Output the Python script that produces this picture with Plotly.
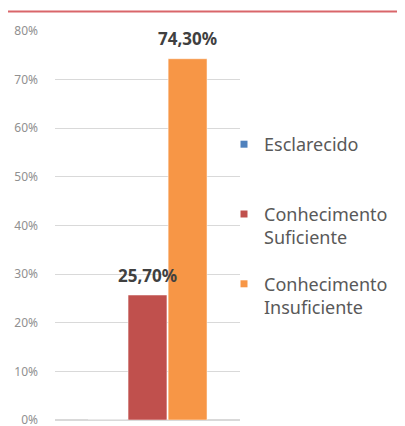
import plotly.graph_objects as go

category = ["Total"]
series_names = ["Esclarecido", "Conhecimento<br>Suficiente", "Conhecimento<br>Insuficiente"]
series_values = [0.0, 0.257, 0.743]
series_labels = ["", "25,70%", "74,30%"]
series_colors = ["#4F81BD", "#C0504D", "#F79646"]
tick_vals = [0, 0.1, 0.2, 0.3, 0.4, 0.5, 0.6, 0.7, 0.8]
tick_text = ["0%", "10%", "20%", "30%", "40%", "50%", "60%", "70%", "80%"]

# page body has an 8px margin, so the figure is drawn 8px smaller and shifted
W, H = 397, 418
L, R, T, B = 47, 165, 23, 6
PW, PH = W - L - R, H - T - B
BARGAP = 0.35
SLOT = PW * (1 - BARGAP) / len(series_values)

fig = go.Figure()
for i, (name, v, col) in enumerate(zip(series_names, series_values, series_colors)):
    fig.add_trace(go.Bar(
        x=category, y=[v], name=name,
        marker=dict(color=col, line=dict(color="white", width=0.5)),
        showlegend=False,
    ))
# legend entries with small square symbols
for i, (name, col) in enumerate(zip(series_names, series_colors)):
    fig.add_trace(go.Scatter(
        x=[None], y=[None], mode="markers", name=name if i else name + "<br> ",
        marker=dict(symbol="square", size=7, color=col),
        legendgroup=str(i), showlegend=True,
    ))

annotations = []
n = len(series_values)
for i, (v, lab) in enumerate(zip(series_values, series_labels)):
    if not lab:
        continue
    annotations.append(dict(
        x=category[0], y=v, xref="x", yref="y", text=lab, showarrow=False,
        xshift=(i - (n - 1) / 2) * SLOT, yshift=20, yanchor="middle",
        font=dict(family="Noto Sans", size=17, color="#404040", weight="bold"),
    ))

fig.update_layout(
    width=W, height=H,
    margin=dict(l=L, r=R, t=T, b=B, autoexpand=False),
    paper_bgcolor="white", plot_bgcolor="white",
    barmode="group", bargap=BARGAP, bargroupgap=0.03,
    separators=",.",
    font=dict(family="Noto Sans", color="#595959"),
    showlegend=True,
    legend=dict(
        x=(216 - L) / PW, y=1 - (118 - T) / PH, xanchor="left", yanchor="top",
        traceorder="grouped", tracegroupgap=20, valign="top",
        font=dict(family="Noto Sans", size=18, color="#595959"),
        itemwidth=30, bgcolor="rgba(0,0,0,0)",
    ),
    annotations=annotations,
    xaxis=dict(type="category", range=[-0.5, 0.5], showticklabels=False,
               showgrid=False, zeroline=False, showline=False),
    yaxis=dict(range=[0, 0.8], tickvals=tick_vals, ticktext=tick_text,
               showgrid=True, gridcolor="#D9D9D9", gridwidth=1,
               zeroline=True, zerolinecolor="#D9D9D9",
               ticklabelstandoff=16, ticklabeloverflow="allow",
               tickfont=dict(family="Noto Sans", size=12, color="#909090")),
    shapes=[dict(type="line", xref="paper", yref="paper",
                 x0=(-8 - L) / PW, x1=(W - L) / PW, y0=1 + 19.5 / PH, y1=1 + 19.5 / PH,
                 line=dict(color="#D9666A", width=2))],
)

fig.write_html("out.html")
